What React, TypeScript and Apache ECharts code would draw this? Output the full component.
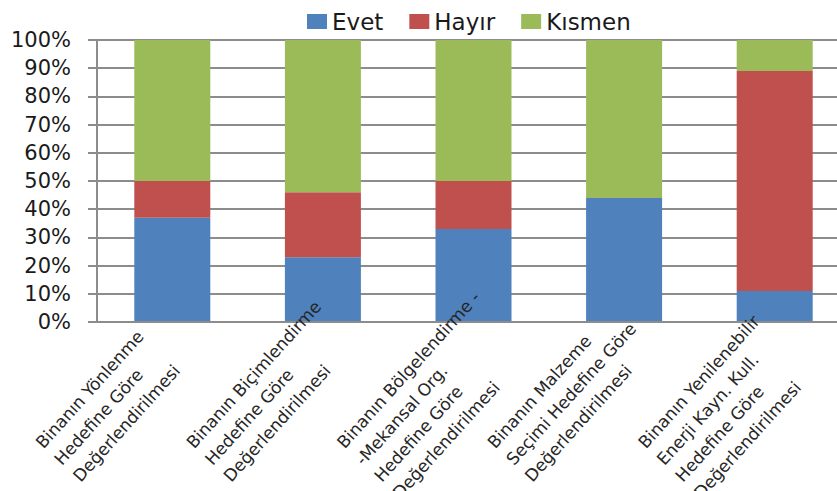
import React, { useEffect, useRef } from "react";
import * as echarts from "echarts";

const categories: string[] = [
  "Binanın Yönlenme\nHedefine Göre\nDeğerlendirilmesi",
  "Binanın Biçimlendirme\nHedefine Göre\nDeğerlendirilmesi",
  "Binanın Bölgelendirme -\n-Mekansal Org.\nHedefine Göre\nDeğerlendirilmesi",
  "Binanın Malzeme\nSeçimi Hedefine Göre\nDeğerlendirilmesi",
  "Binanın Yenilenebilir\nEnerji Kayn. Kull.\nHedefine Göre\nDeğerlendirilmesi",
];
const seriesNames: string[] = ["Evet", "Hayır", "Kısmen"];
const evet: number[] = [37, 23, 33, 44, 11];
const hayir: number[] = [13, 23, 17, 0, 78];
const kismen: number[] = [50, 54, 50, 56, 11];

const colors = ["#4F81BD", "#C0504D", "#9BBB59"];
const FONT = "DejaVu Sans";

export default function App() {
  const ref = useRef<HTMLDivElement>(null);
  useEffect(() => {
    if (!ref.current) return;
    const chart = echarts.init(ref.current, undefined, { renderer: "svg" });
    const grid = "#8c8c8c";
    chart.setOption({
      animation: false,
      color: colors,
      legend: {
        left: 302,
        top: 5,
        itemWidth: 20,
        itemHeight: 15,
        itemGap: 26,
        icon: "rect",
        textStyle: { fontFamily: FONT, fontSize: 23, color: "#1a1a1a" },
        data: seriesNames,
      },
      grid: {
        left: 97,
        top: 40,
        width: 753,
        height: 282,
        containLabel: false,
        outerBoundsMode: "none",
      },
      xAxis: {
        type: "category",
        data: categories,
        z: 5,
        axisLine: { show: true, lineStyle: { color: grid, width: 2 } },
        axisTick: { show: false },
        axisLabel: {
          interval: 0,
          rotate: 48,
          margin: -43,
          align: "right",
          verticalAlign: "top",
          hideOverlap: false,
          fontFamily: FONT,
          fontSize: 17,
          lineHeight: 25,
          color: "#262626",
          formatter: (v: string) =>
            v
              .split("\n")
              .map((l) => `{t|${l}}`)
              .join("\n"),
          rich: {
            t: {
              fontFamily: FONT,
              fontSize: 17,
              lineHeight: 25,
              color: "#262626",
              align: "left",
              width: 213,
            },
          },
        },
      },
      yAxis: {
        type: "value",
        min: 0,
        max: 100,
        interval: 10,
        axisLine: { show: true, lineStyle: { color: grid, width: 2 } },
        axisTick: { show: true, length: 9, lineStyle: { color: grid, width: 2 } },
        splitLine: { show: true, lineStyle: { color: grid, width: 2 } },
        axisLabel: {
          formatter: "{value}%",
          margin: 26,
          hideOverlap: false,
          fontFamily: FONT,
          fontSize: 21,
          color: "#1a1a1a",
        },
      },
      series: [
        { name: seriesNames[0], type: "bar", stack: "total", barWidth: 76, data: evet },
        { name: seriesNames[1], type: "bar", stack: "total", barWidth: 76, data: hayir },
        { name: seriesNames[2], type: "bar", stack: "total", barWidth: 76, data: kismen },
      ],
    });
    return () => chart.dispose();
  }, []);
  return (
    <div
      ref={ref}
      style={{ position: "fixed", left: 0, top: 0, width: 837, height: 491, background: "#fff" }}
    />
  );
}
